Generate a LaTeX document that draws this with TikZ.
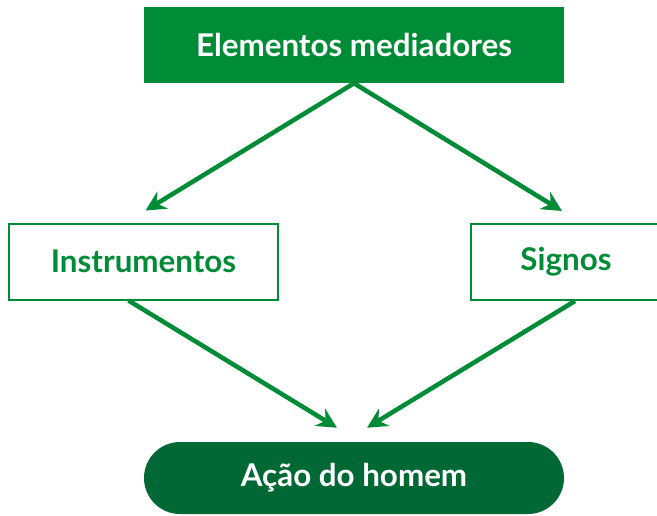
\documentclass[tikz,border=0pt]{standalone}
\usepackage{fontspec}
\setmainfont{Lato}
\usepackage{tikz}
\usetikzlibrary{arrows.meta,positioning,calc}
\definecolor{medGreen}{HTML}{008C37}
\definecolor{darkGreen}{HTML}{006834}

\begin{document}
\begin{tikzpicture}[x=0.75pt, y=-0.75pt, font=\fontsize{23.5}{28}\selectfont\bfseries,
    filledbox/.style={fill=medGreen, text=white, minimum width=315pt, minimum height=57pt, inner sep=0pt},
    framebox/.style={draw=medGreen, line width=1.5pt, fill=white, text=medGreen, minimum height=57pt, inner sep=0pt},
    pillbox/.style={fill=darkGreen, text=white, minimum width=315pt, minimum height=54pt, rounded corners=27pt, inner sep=0pt},
    link/.style={draw=medGreen, line width=3.4pt, -{Stealth[length=15pt, width=15pt, inset=5pt]}}]
  \useasboundingbox (0,0) rectangle (657,515);
  % boxes
  \node[filledbox] (mediators) at (354,45) {Elementos mediadores};
  \node[framebox, minimum width=201.75pt] (tools) at (143.5,261.5) {Instrumentos};
  \node[framebox, minimum width=142.5pt] (signs) at (566,262) {Signos};
  \node[pillbox] (action) at (354,478) {Ação do homem};
  % arrow ends
  \coordinate (toolsIn) at ($(tools.north)+(2,-12)$);
  \coordinate (signsIn) at ($(signs.north)+(-4,-12)$);
  \coordinate (actionInL) at ($(action.north)+(-17,-14)$);
  \coordinate (actionInR) at ($(action.north)+(13,-14)$);
  \coordinate (toolsOut) at ($(tools.south)+(-15,0)$);
  \coordinate (signsOut) at ($(signs.south)+(9,0)$);
  % arrows
  \draw[link] (mediators.south) -- (toolsIn);
  \draw[link] (mediators.south) -- (signsIn);
  \draw[link] (toolsOut) -- (actionInL);
  \draw[link] (signsOut) -- (actionInR);
\end{tikzpicture}
\end{document}
